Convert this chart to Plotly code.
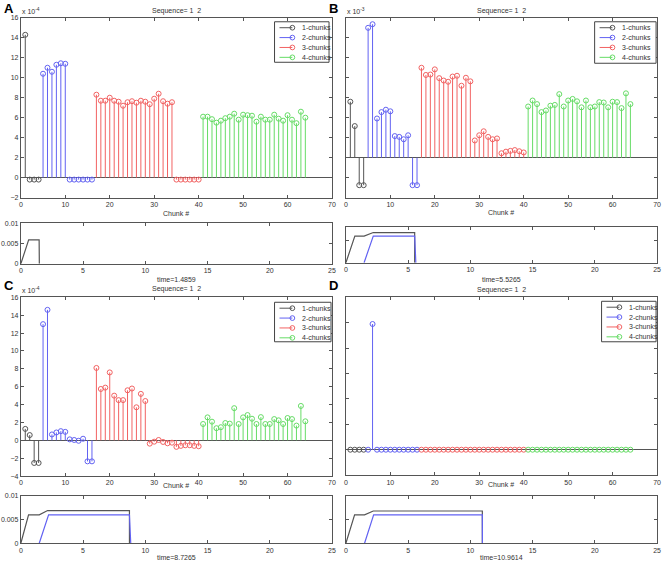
import plotly.graph_objects as go

W, H = 669, 567

# ---------------- data ----------------
series_names = ["1-chunks", "2-chunks", "3-chunks", "4-chunks"]
series_colors = ["#555555", "#6262f2", "#f26262", "#66dc66"]

chunks_1 = [1, 2, 3, 4]
chunks_2 = [5, 6, 7, 8, 9, 10, 11, 12, 13, 14, 15, 16]
chunks_3 = [17, 18, 19, 20, 21, 22, 23, 24, 25, 26, 27, 28,
            29, 30, 31, 32, 33, 34, 35, 36, 37, 38, 39, 40]
chunks_4 = [41, 42, 43, 44, 45, 46, 47, 48, 49, 50, 51, 52,
            53, 54, 55, 56, 57, 58, 59, 60, 61, 62, 63, 64]

# Panel A (x 10^-4)
a_1 = [14.3, -0.2, -0.2, -0.2]
a_2 = [10.4, 11.0, 10.6, 11.3, 11.45, 11.4, -0.2, -0.2, -0.2, -0.2, -0.2, -0.2]
a_3 = [8.3, 7.7, 7.7, 8.0, 7.7, 7.6, 7.2, 7.55, 7.65, 7.5, 7.7, 7.6,
       7.35, 7.9, 8.4, 7.65, 7.4, 7.55, -0.2, -0.2, -0.2, -0.2, -0.2, -0.2]
a_4 = [6.1, 6.1, 5.85, 5.5, 5.7, 5.95, 6.1, 6.4, 5.8, 6.3, 6.25, 6.2,
       5.6, 6.1, 5.8, 5.8, 6.3, 5.9, 5.7, 6.25, 5.8, 5.45, 6.6, 6.0]

# Panel B (x 10^-3)
b_1 = [1.40, 0.79, -0.69, -0.69]
b_2 = [3.25, 3.34, 0.98, 1.14, 1.20, 1.16, 0.54, 0.52, 0.46, 0.56, -0.69, -0.69]
b_3 = [2.25, 2.07, 2.08, 2.21, 1.99, 1.93, 1.90, 2.03, 2.05, 1.80, 2.00, 1.91,
       0.43, 0.56, 0.66, 0.52, 0.46, 0.48, 0.11, 0.15, 0.17, 0.19, 0.16, 0.13]
b_4 = [1.28, 1.43, 1.34, 1.14, 1.18, 1.30, 1.32, 1.59, 1.28, 1.43, 1.47, 1.41,
       1.26, 1.43, 1.26, 1.28, 1.39, 1.38, 1.26, 1.40, 1.39, 1.24, 1.61, 1.34]

# Panel C (x 10^-4)
c_1 = [1.28, 0.59, -2.53, -2.53]
c_2 = [13.0, 14.6, 0.66, 0.88, 1.03, 0.95, 0.11, 0.04, -0.05, 0.18, -2.35, -2.35]
c_3 = [8.1, 5.75, 5.9, 7.6, 5.0, 4.5, 4.5, 5.6, 5.8, 3.7, 5.2, 4.4,
       -0.37, -0.15, 0.04, -0.18, -0.33, -0.26, -0.73, -0.62, -0.55, -0.55, -0.62, -0.66]
c_4 = [1.83, 2.57, 2.09, 1.36, 1.47, 1.94, 1.87, 3.6, 1.83, 2.57, 2.83, 2.42,
       1.83, 2.6, 1.83, 1.83, 2.38, 2.24, 1.83, 2.5, 2.38, 1.65, 3.85, 2.13]

# Panel D
d_1 = [0, 0, 0, 0]
d_2 = [0, 9.9, 0, 0, 0, 0, 0, 0, 0, 0, 0, 0]
d_3 = [0, 0, 0, 0, 0, 0, 0, 0, 0, 0, 0, 0, 0, 0, 0, 0, 0, 0, 0, 0, 0, 0, 0, 0]
d_4 = [0, 0, 0, 0, 0, 0, 0, 0, 0, 0, 0, 0, 0, 0, 0, 0, 0, 0, 0, 0, 0, 0, 0, 0]

# time curves (lower small plots)
times = [1.4859, 5.5265, 8.7265, 10.9614]
a_black_t = [0, 0.63, 1.47, 1.4859]
a_black_v = [0, 0.0059, 0.0059, 0]
b_black_t = [0, 0.72, 1.46, 2.2, 5.5265, 5.5265]
b_black_v = [0, 0.006, 0.006, 0.0068, 0.0068, 0]
b_blue_t = [1.46, 2.2, 5.5265, 5.62]
b_blue_v = [0, 0.006, 0.006, 0]
c_black_t = [0, 0.62, 1.48, 2.15, 8.7265, 8.7265]
c_black_v = [0, 0.006, 0.006, 0.0069, 0.0069, 0]
c_blue_t = [1.48, 2.23, 8.7265, 8.83]
c_blue_v = [0, 0.006, 0.006, 0]
d_black_t = [0, 0.7, 1.5, 2.2, 10.9614, 10.9614]
d_black_v = [0, 0.006, 0.006, 0.0068, 0.0068, 0]
d_blue_t = [1.5, 2.23, 10.9614, 10.97]
d_blue_v = [0, 0.006, 0.006, 0]

stem_xticks = [0, 10, 20, 30, 40, 50, 60, 70]
time_xticks = [0, 5, 10, 15, 20, 25]
small_yticks = [0, 0.005, 0.01]
small_yticklabels = ["0", "0.005", "0.01"]

# ---------------- layout helpers ----------------
def px(x):
    return x / W


def py(y):
    return 1 - y / H


FONT = "Liberation Sans, Arial, sans-serif"
AXC = "#555555"
TXT = "#333333"

panels = [
    dict(letter="A", vals=[a_1, a_2, a_3, a_4], yr=[-2, 16], dt=2, showy=True, exp="-4",
         sx=(19, 333), sy=(14, 196), ty=(222, 263), tyr=[0, 0.01],
         small=[(a_black_t, a_black_v, 0)], time=times[0],
         leg=(275, 18, 330, 59), title_y=7, chunk_y=212, time_y=279, letter_y=5),
    dict(letter="B", vals=[b_1, b_2, b_3, b_4], yr=[-1, 3.5], dt=0.5, showy=False, exp="-3",
         sx=(347, 661), sy=(14, 196), ty=(226, 262), tyr=[0, 0.008],
         small=[(b_black_t, b_black_v, 0), (b_blue_t, b_blue_v, 1)], time=times[1],
         leg=(598, 18, 660, 60), title_y=7, chunk_y=211, time_y=279, letter_y=5),
    dict(letter="C", vals=[c_1, c_2, c_3, c_4], yr=[-4, 16], dt=2, showy=True, exp="-4",
         sx=(19, 333), sy=(297, 478), ty=(498, 546), tyr=[0, 0.01],
         small=[(c_black_t, c_black_v, 0), (c_blue_t, c_blue_v, 1)], time=times[2],
         leg=(275, 302, 332, 342), title_y=289, chunk_y=488, time_y=560, letter_y=285),
    dict(letter="D", vals=[d_1, d_2, d_3, d_4], yr=[-2, 12], dt=2, showy=False, exp=None,
         sx=(347, 661), sy=(297, 477), ty=(498, 546), tyr=[0, 0.01],
         small=[(d_black_t, d_black_v, 0), (d_blue_t, d_blue_v, 1)], time=times[3],
         leg=(605, 301, 660, 342), title_y=290, chunk_y=487, time_y=560, letter_y=285),
]

chunk_lists = [chunks_1, chunks_2, chunks_3, chunks_4]

fig = go.Figure()
layout = dict(
    width=W, height=H, autosize=False,
    margin=dict(l=0, r=0, t=0, b=0),
    paper_bgcolor="white", plot_bgcolor="white",
    showlegend=False,
    font=dict(family=FONT, size=7, color=TXT),
)
annotations = []
shapes = []


def axis_common():
    return dict(showline=True, linecolor=AXC, linewidth=1, mirror="allticks",
                ticks="inside", ticklen=3, tickcolor=AXC, tickwidth=1,
                showgrid=False, zeroline=False,
                tickfont=dict(family=FONT, size=7, color=TXT))


for i, p in enumerate(panels):
    n_stem = 2 * i + 1
    n_small = 2 * i + 2
    xs = "x" if n_stem == 1 else f"x{n_stem}"
    ys = "y" if n_stem == 1 else f"y{n_stem}"
    xt = f"x{n_small}"
    yt = f"y{n_small}"

    # stem traces
    for k in range(4):
        cx = chunk_lists[k]
        vy = p["vals"][k]
        lx, ly = [], []
        for xx, vv in zip(cx, vy):
            lx += [xx, xx, None]
            ly += [0, vv, None]
        fig.add_trace(go.Scatter(x=lx, y=ly, mode="lines", xaxis=xs, yaxis=ys,
                                 line=dict(color=series_colors[k], width=1),
                                 hoverinfo="skip", name=series_names[k]))
        fig.add_trace(go.Scatter(x=cx, y=vy, mode="markers", xaxis=xs, yaxis=ys,
                                 marker=dict(symbol="circle-open", size=5,
                                             color=series_colors[k],
                                             line=dict(width=1, color=series_colors[k])),
                                 name=series_names[k]))
    # small time traces
    for (tt, vv, ci) in p["small"]:
        fig.add_trace(go.Scatter(x=tt, y=vv, mode="lines", xaxis=xt, yaxis=yt,
                                 line=dict(color=series_colors[ci], width=1.2),
                                 name=series_names[ci]))

    kx = "xaxis" if n_stem == 1 else f"xaxis{n_stem}"
    ky = "yaxis" if n_stem == 1 else f"yaxis{n_stem}"
    ax = axis_common()
    ax.update(domain=[px(p["sx"][0]), px(p["sx"][1])], range=[0, 70],
              tickvals=stem_xticks, anchor=ys)
    layout[kx] = ax
    ay = axis_common()
    ay.update(domain=[py(p["sy"][1]), py(p["sy"][0])], range=p["yr"],
              dtick=p["dt"], tick0=0, anchor=xs, showticklabels=p["showy"],
              zeroline=True, zerolinecolor=AXC, zerolinewidth=1)
    layout[ky] = ay

    axt = axis_common()
    axt.update(domain=[px(p["sx"][0]), px(p["sx"][1])], range=[0, 25],
               tickvals=time_xticks, anchor=yt)
    layout[f"xaxis{n_small}"] = axt
    ayt = axis_common()
    ayt.update(domain=[py(p["ty"][1]), py(p["ty"][0])], range=p["tyr"],
               tickvals=small_yticks, ticktext=small_yticklabels, anchor=xt,
               showticklabels=p["showy"])
    layout[f"yaxis{n_small}"] = ayt

    cxp = (p["sx"][0] + p["sx"][1]) / 2
    annotations.append(dict(text="Sequence= 1  2", x=px(cxp), y=py(p["title_y"]),
                            xref="paper", yref="paper", showarrow=False,
                            xanchor="center", yanchor="middle",
                            font=dict(size=7, color=TXT)))
    annotations.append(dict(text="Chunk #", x=px(cxp), y=py(p["chunk_y"]),
                            xref="paper", yref="paper", showarrow=False,
                            xanchor="center", yanchor="middle",
                            font=dict(size=7, color=TXT)))
    annotations.append(dict(text=f"time={p['time']}", x=px(cxp), y=py(p["time_y"]),
                            xref="paper", yref="paper", showarrow=False,
                            xanchor="center", yanchor="middle",
                            font=dict(size=7, color=TXT)))
    annotations.append(dict(text=f"<b>{p['letter']}</b>", x=px(p["sx"][0] - 19), y=py(p["letter_y"]),
                            xref="paper", yref="paper", showarrow=False,
                            xanchor="left", yanchor="middle",
                            font=dict(size=13, color="black", family="Liberation Sans, Arial")))
    if p["exp"]:
        annotations.append(dict(text=f"x 10<sup>{p['exp']}</sup>", x=px(p["sx"][0] - 1),
                                y=py(p["sy"][0] - 1), xref="paper", yref="paper",
                                showarrow=False, xanchor="left", yanchor="bottom",
                                font=dict(size=7, color=TXT)))

    # legend box
    l, t, r, b = p["leg"]
    shapes.append(dict(type="rect", xref="paper", yref="paper",
                       x0=px(l), x1=px(r), y0=py(b), y1=py(t),
                       line=dict(color="#444444", width=1), fillcolor="white"))
    for k in range(4):
        ry = t + 6 + 10 * k
        shapes.append(dict(type="line", xref="paper", yref="paper",
                           x0=px(l + 5), x1=px(l + 18), y0=py(ry), y1=py(ry),
                           line=dict(color=series_colors[k], width=1)))
        shapes.append(dict(type="circle", xref="paper", yref="paper",
                           x0=px(l + 15.6), x1=px(l + 20.4),
                           y0=py(ry + 2.4), y1=py(ry - 2.4),
                           line=dict(color=series_colors[k], width=1),
                           fillcolor="rgba(0,0,0,0)"))
        annotations.append(dict(text=series_names[k], x=px(l + 26), y=py(ry),
                                xref="paper", yref="paper", showarrow=False,
                                xanchor="left", yanchor="middle",
                                font=dict(size=7, color=TXT)))

layout["annotations"] = annotations
layout["shapes"] = shapes
fig.update_layout(**layout)
fig.write_html(
    "out.html",
    config={"displayModeBar": False, "staticPlot": False},
    post_script="document.body.style.margin='0';document.body.style.padding='0';"
                "document.body.style.overflow='hidden';",
)
